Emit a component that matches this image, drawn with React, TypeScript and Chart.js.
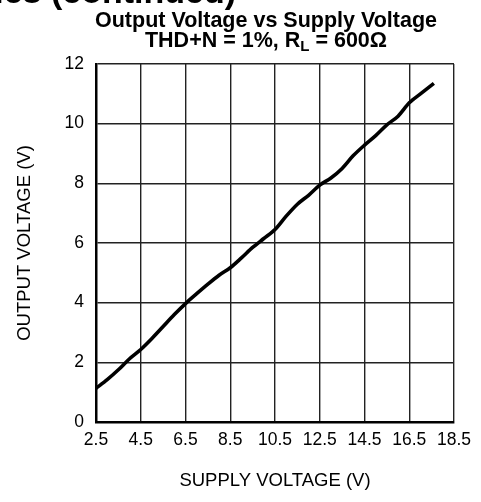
import React, { useEffect, useRef } from "react";
import { Chart, registerables } from "chart.js";

Chart.register(...registerables);

const supplyVoltage = [2.5, 3, 3.5, 4, 4.5, 5, 5.5, 6, 6.5, 7, 7.5, 8, 8.5, 9, 9.5, 10, 10.5, 11, 11.5, 12, 12.5, 13, 13.5, 14, 14.5, 15, 15.5, 16, 16.5, 17, 17.6];
const outputVoltage = [1.13, 1.42, 1.75, 2.12, 2.43, 2.8, 3.2, 3.6, 3.97, 4.3, 4.62, 4.92, 5.17, 5.5, 5.85, 6.15, 6.45, 6.9, 7.3, 7.6, 7.94, 8.18, 8.5, 8.93, 9.28, 9.6, 9.96, 10.25, 10.7, 11.0, 11.35];
const xTicks = [2.5, 4.5, 6.5, 8.5, 10.5, 12.5, 14.5, 16.5, 18.5];
const yTicks = [0, 2, 4, 6, 8, 10, 12];

const headerText = "Typical Performance Characteristics (continued)";
const titleLine1 = "Output Voltage vs Supply Voltage";
const titleLine2a = "THD+N = 1%, R";
const titleLine2sub = "L";
const titleLine2b = " = 600\u03A9";
const xTitle = "SUPPLY VOLTAGE (V)";
const yTitle = "OUTPUT VOLTAGE (V)";

const FONT = "'Liberation Sans', Arial, Helvetica, sans-serif";

const titlePlugin = {
  id: "customTitles",
  afterDraw(chart: any) {
    const ctx = chart.ctx;
    ctx.save();
    ctx.fillStyle = "#000";
    // cut-off header
    ctx.font = `bold 34px ${FONT}`;
    ctx.textAlign = "right";
    ctx.textBaseline = "alphabetic";
    ctx.fillText(headerText, 236, 3);
    // title
    const cx = 266;
    const big = 21.5;
    const small = 15;
    ctx.font = `bold ${big}px ${FONT}`;
    ctx.textAlign = "center";
    ctx.fillText(titleLine1, cx, 27);
    const wa = ctx.measureText(titleLine2a).width;
    const wb = ctx.measureText(titleLine2b).width;
    ctx.font = `bold ${small}px ${FONT}`;
    const ws = ctx.measureText(titleLine2sub).width;
    const total = wa + ws + wb;
    let x = cx - total / 2;
    ctx.textAlign = "left";
    ctx.font = `bold ${big}px ${FONT}`;
    ctx.fillText(titleLine2a, x, 47);
    x += wa;
    ctx.font = `bold ${small}px ${FONT}`;
    ctx.fillText(titleLine2sub, x, 51);
    x += ws;
    ctx.font = `bold ${big}px ${FONT}`;
    ctx.fillText(titleLine2b, x, 47);
    ctx.restore();
  },
};

export default function App() {
  const ref = useRef<HTMLCanvasElement | null>(null);
  useEffect(() => {
    document.body.style.margin = "0";
    const canvas = ref.current;
    if (!canvas) return;
    const chart = new Chart(canvas, {
      type: "line",
      data: {
        datasets: [
          {
            data: supplyVoltage.map((v, i) => ({ x: v, y: outputVoltage[i] })),
            borderColor: "#000",
            borderWidth: 3.6,
            pointRadius: 0,
            tension: 0.3,
            fill: false,
          },
        ],
      },
      options: {
        responsive: false,
        animation: false,
        devicePixelRatio: 1,
        layout: { padding: { top: 64, right: 27, left: 0, bottom: 0 } },
        plugins: { legend: { display: false }, title: { display: false }, tooltip: { enabled: false } },
        scales: {
          x: {
            type: "linear",
            min: 2.5,
            max: 18.5,
            afterBuildTicks: (s: any) => {
              s.ticks = xTicks.map((v) => ({ value: v }));
            },
            afterFit: (s: any) => {
              s.height = 80;
            },
            ticks: {
              color: "#000",
              font: { family: FONT, size: 17.5 },
              padding: 8,
              maxRotation: 0,
              autoSkip: false,
              callback: (v: any) => Number(v).toFixed(1),
            },
            grid: { color: "#222", lineWidth: 1.4, drawTicks: false },
            border: { color: "#000", width: 2.5 },
            title: {
              display: true,
              text: xTitle,
              color: "#000",
              font: { family: FONT, size: 18.5 },
              padding: { top: 4, bottom: 10 },
            },
          },
          y: {
            type: "linear",
            min: 0,
            max: 12,
            afterBuildTicks: (s: any) => {
              s.ticks = yTicks.map((v) => ({ value: v }));
            },
            afterFit: (s: any) => {
              s.width = 96;
            },
            ticks: {
              color: "#000",
              font: { family: FONT, size: 17.5 },
              padding: 12,
              autoSkip: false,
            },
            grid: { color: "#222", lineWidth: 1.4, drawTicks: false },
            border: { color: "#000", width: 2.5 },
            title: {
              display: true,
              text: yTitle,
              color: "#000",
              font: { family: FONT, size: 18.5 },
              padding: { top: 14, bottom: 0 },
            },
          },
        },
      },
      plugins: [titlePlugin],
    } as any);
    return () => chart.destroy();
  }, []);
  return <canvas ref={ref} width={481} height={502} style={{ display: "block" }} />;
}
